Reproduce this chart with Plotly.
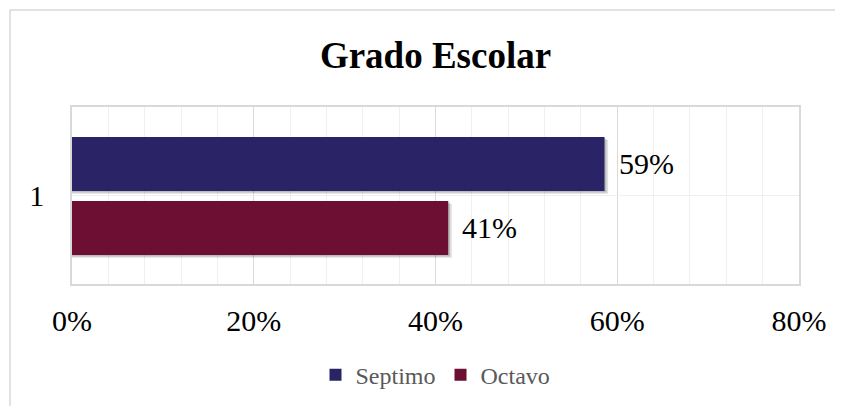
import plotly.graph_objects as go

# Datos
categoria = ["1"]
series = ["Septimo", "Octavo"]
valores = [0.586, 0.414]
etiquetas = ["59%", "41%"]
colores = ["#2A2366", "#6C0F33"]

W, H = 843, 406
# la página añade ~7px de margen, se compensa aquí
L, T = 64, 99
pw, ph = 727, 177
R, B = W - L - pw, H - T - ph

# posición de cada barra dentro de la categoría (unidades del eje y)
ancho = 0.305
desplaz = [-0.3305, 0.031]
sombra_y = 0.016   # ~3 px
sombra_x = 0.004   # ~3.5 px

fig = go.Figure()
# sombras suaves
for v, off in zip(valores, desplaz):
    for k, a in [(1.0, 0.12), (0.5, 0.16)]:
        fig.add_trace(go.Bar(
            y=categoria, x=[v + sombra_x * k], orientation="h",
            width=ancho, offset=off + sombra_y * k,
            marker=dict(color=f"rgba(0,0,0,{a})", line=dict(width=0)),
            showlegend=False, hoverinfo="skip",
        ))
for nombre, v, c, off in zip(series, valores, colores, desplaz):
    fig.add_trace(go.Bar(
        y=categoria, x=[v], name=nombre, orientation="h",
        width=ancho, offset=off,
        marker=dict(color=c, line=dict(width=0)),
        hoverinfo="name+x",
    ))

# etiquetas de datos a la derecha de cada barra
for v, t, off in zip(valores, etiquetas, desplaz):
    fig.add_annotation(
        x=v, y=off + ancho / 2, text=t, showarrow=False,
        xanchor="left", yanchor="middle", xshift=12, yshift=0,
        font=dict(family="Liberation Serif", size=30, color="#000000"),
    )

# marco exterior del gráfico
def px_x(p):
    return (p - L) / pw

def px_y(p):
    return (T + ph - p) / ph

fig.add_shape(type="rect", xref="paper", yref="paper",
              x0=px_x(2), x1=px_x(860), y0=px_y(430), y1=px_y(2),
              line=dict(color="#d9d9d9", width=1.5), layer="below")

fig.update_layout(
    width=W, height=H,
    margin=dict(l=L, r=R, t=T, b=B, autoexpand=False),
    paper_bgcolor="white", plot_bgcolor="white",
    barmode="overlay",
    font=dict(family="Liberation Serif", color="#000000"),
    title=dict(text="<b>Grado Escolar</b>", x=0.5, xref="paper",
               y=1 - 47 / H, yref="container", yanchor="middle",
               font=dict(family="Liberation Serif", size=37, color="#000000")),
    showlegend=True,
    legend=dict(orientation="h", x=0.5, xanchor="center", y=-0.515, yanchor="middle",
                font=dict(family="Liberation Serif", size=24, color="#595959"),
                itemwidth=30, tracegroupgap=0),
    xaxis=dict(range=[0, 0.8], dtick=0.2, tickformat=".0%", automargin=False,
               showgrid=True, gridcolor="#d9d9d9", gridwidth=1,
               minor=dict(dtick=0.04, showgrid=True, gridcolor="#efefef", gridwidth=1),
               showline=True, linecolor="#d9d9d9", linewidth=1.5, mirror=True,
               zeroline=False, ticks="", ticklabelstandoff=9,
               tickfont=dict(family="Liberation Serif", size=30, color="#000000")),
    yaxis=dict(type="category", range=[0.5, -0.5], automargin=False,
               showgrid=True, gridcolor="#efefef",
               showline=True, linecolor="#d9d9d9", linewidth=1.5, mirror=True,
               ticks="", ticklabelstandoff=20,
               tickfont=dict(family="Liberation Serif", size=30, color="#000000")),
)

fig.write_html("out.html")
